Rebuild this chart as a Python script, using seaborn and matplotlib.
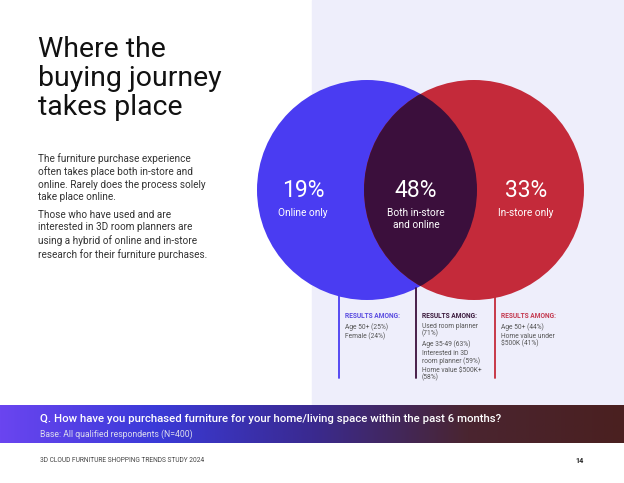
import numpy as np
import matplotlib.pyplot as plt
import seaborn as sns
from matplotlib.patches import Circle, Rectangle
from matplotlib.colors import LinearSegmentedColormap

sns.set_style("white")
plt.rcParams['font.family'] = ['Roboto', 'DejaVu Sans']

segments = ["Online only", "Both in-store\nand online", "In-store only"]
shares = [19, 48, 33]
among = [
    ["Age 50+ (25%)", "Female (24%)"],
    ["Used room planner\n(71%)", "Age 35-49 (63%)", "Interested in 3D\nroom planner (59%)", "Home value $500K+\n(58%)"],
    ["Age 50+ (44%)", "Home value under\n$500K (41%)"],
]
seg_colors = ["#4A3CF2", "#3B0F3C", "#C42A3A"]

fig = plt.figure(figsize=(6.24, 4.83), dpi=100)
ax = fig.add_axes([0, 0, 1, 1])
ax.axis("off")

ax.add_patch(Rectangle((312, 0), 312, 405, color="#EEEEFB", zorder=0))

# gradient banner
grad = np.linspace(0, 1, 256)[None, :]
cmap = LinearSegmentedColormap.from_list("b", ["#6A45F0", "#3A3AD8", "#3A2A90", "#4A2530", "#4A2020"])
ax.imshow(grad, cmap=cmap, extent=(0, 624, 443, 405), aspect="auto", zorder=1)
ax.set_xlim(0, 624)
ax.set_ylim(483, 0)

r = 110
cl, cr = (367, 190), (474, 190)
ax.add_patch(Circle(cl, r, facecolor=seg_colors[0], lw=0, zorder=2))
ax.add_patch(Circle(cr, r, facecolor=seg_colors[2], lw=0, zorder=2))
inter = Circle(cl, r, facecolor=seg_colors[1], lw=0, zorder=3)
ax.add_patch(inter)
inter.set_clip_path(Circle(cr, r, transform=ax.transData))

# labels
xs = [303, 416, 526]
for x, s, lab in zip(xs, shares, segments):
    ax.text(x, 202, f"{s}%", color="white", fontsize=16.5, ha="center", va="bottom", zorder=5)
    ax.text(x, 208, lab, color="white", fontsize=7.3, ha="center", va="top", zorder=5, linespacing=1.3)

# leader lines and result blocks
lx = [339, 416, 495]
ltop = [296, 288, 296]
head_cols = ["#5A4CE0", "#3B1A3C", "#C43A50"]
for x, t, col, hc, items in zip(lx, ltop, seg_colors, head_cols, among):
    ax.plot([x, x], [t, 378], color=col, lw=1.3, zorder=4)
    ax.text(x + 6, 316, "RESULTS AMONG:", color=hc, fontsize=4.8, weight="bold", va="center")
    y = 323
    for it in items:
        ax.text(x + 6, y, it, color="#555555", fontsize=4.8, va="top", linespacing=1.0)
        y += 7 * (it.count("\n") + 1) + 3

ax.text(38, 36, "Where the\nbuying journey\ntakes place", fontsize=20.5, va="top", color="#111111", linespacing=1.1)
ax.text(38, 153, "The furniture purchase experience\noften takes place both in-store and\nonline. Rarely does the process solely\ntake place online.",
        fontsize=7.2, va="top", color="#333333", linespacing=1.3)
ax.text(38, 210, "Those who have used and are\ninterested in 3D room planners are\nusing a hybrid of online and in-store\nresearch for their furniture purchases.",
        fontsize=7.2, va="top", color="#333333", linespacing=1.3)

ax.text(40, 419, "Q. How have you purchased furniture for your home/living space within the past 6 months?",
        color="white", fontsize=8.2, weight="medium", va="center", zorder=5)
ax.text(40, 434, "Base: All qualified respondents (N=400)", color="#DDDDEE", fontsize=6.2, va="center", zorder=5)
ax.text(40, 461, "3D CLOUD FURNITURE SHOPPING TRENDS STUDY 2024", color="#444444", fontsize=4.8, va="center")
ax.text(584, 461, "14", color="#222222", fontsize=5.2, weight="bold", va="center", ha="right")

fig.savefig("out.png", dpi=100)
